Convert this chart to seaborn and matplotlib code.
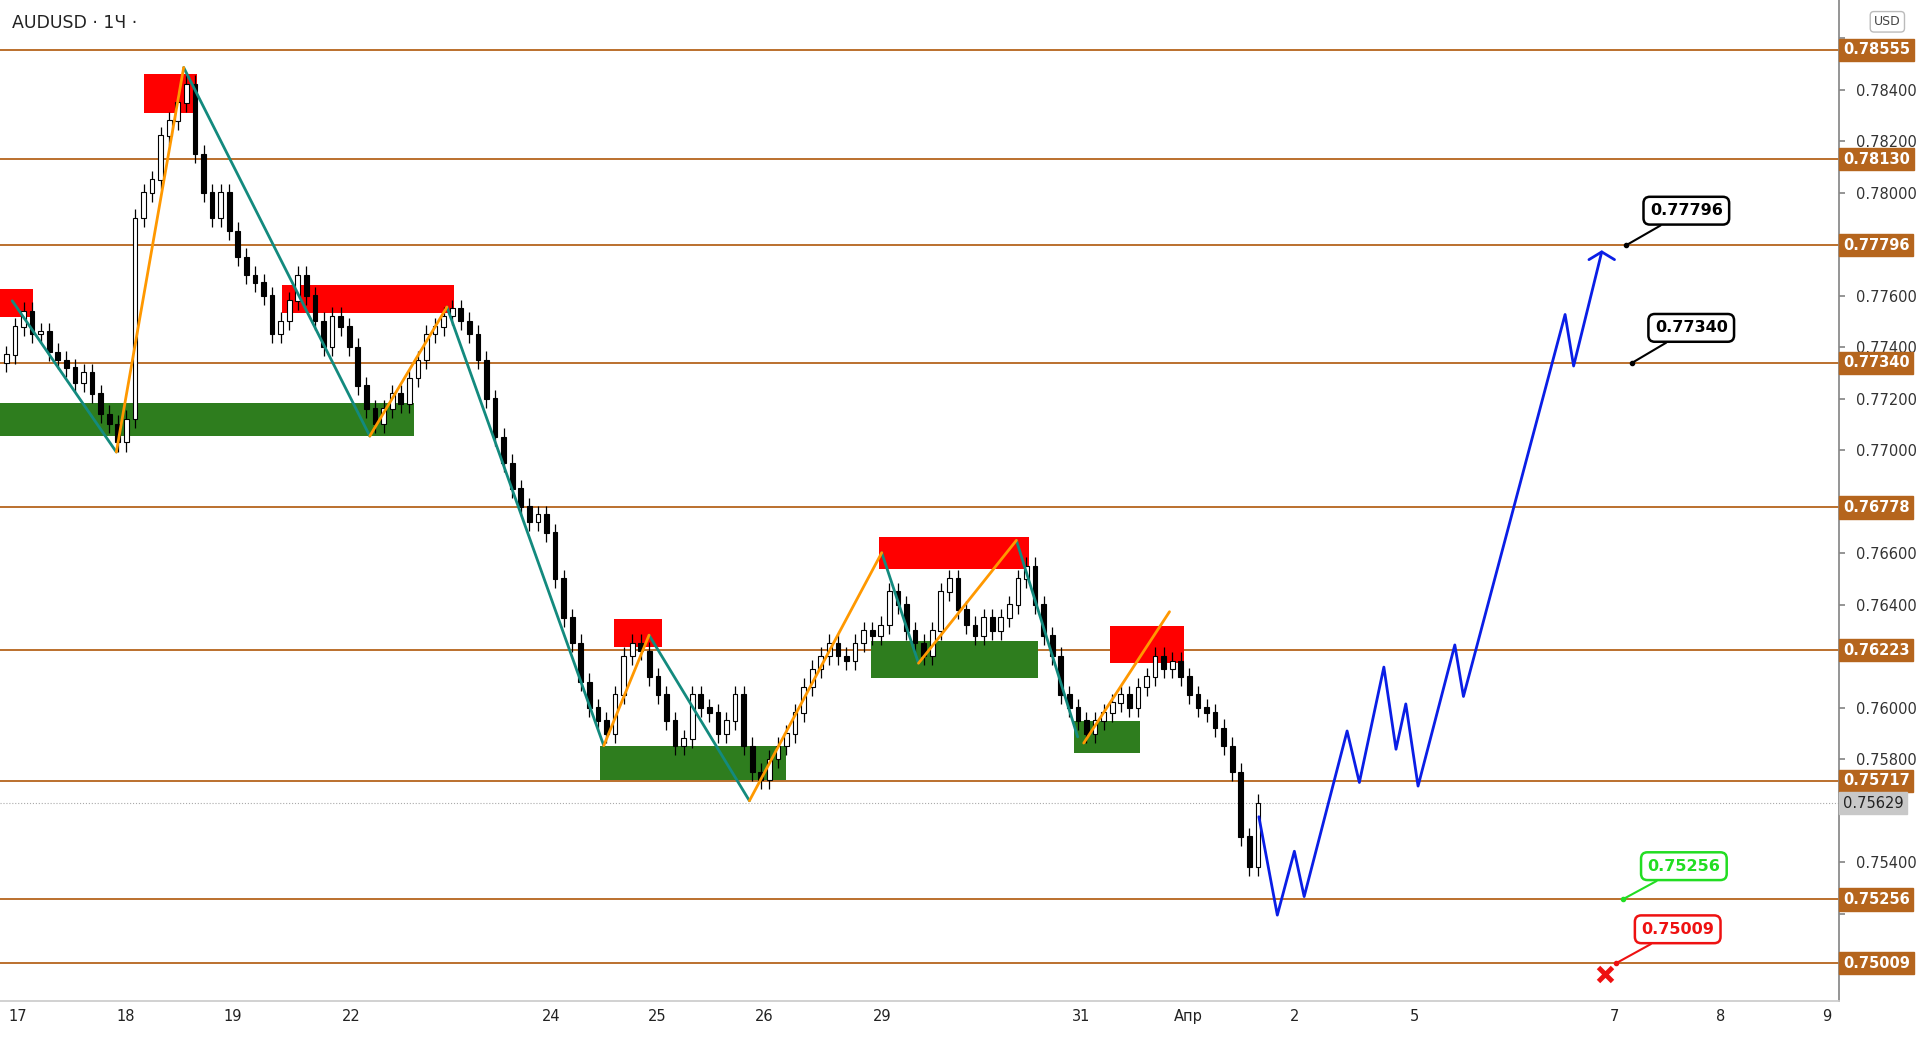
import numpy as np
import pandas as pd
import matplotlib
matplotlib.use("Agg")
import matplotlib.pyplot as plt
import seaborn as sns
from matplotlib.transforms import blended_transform_factory

# ---------------- data ----------------
closes_pips = [7737,7748,7754,7745,7746,7738,7735,7732,7726,7730,7722,7714,7710,7703,
 7712,7790,7800,7805,7822,7828,7835,7842,7815,7800,7790,7800,7785,7775,7768,7765,7760,7745,
 7750,7758,7768,7760,7750,7740,7752,7748,7740,7725,7716,7710,7716,7722,7718,7728,7735,7745,
 7748,7752,7755,7750,7745,7735,7720,7705,7695,7685,7678,7672,7675,7668,7650,7635,7625,7610,
 7600,7595,7590,7605,7620,7625,7622,7612,7605,7595,7585,7588,7605,7600,7598,7590,7595,7605,
 7585,7575,7572,7580,7585,7590,7598,7608,7615,7620,7625,7620,7618,7625,7630,7628,7632,7645,
 7640,7630,7625,7620,7630,7645,7650,7638,7632,7628,7635,7630,7635,7640,7650,7655,7640,7628,
 7620,7605,7600,7595,7590,7595,7598,7602,7605,7600,7608,7612,7620,7615,7618,7612,7605,7600,
 7598,7592,7585,7575,7550,7538,7563]
bar_days = 7 / 87  # one 2-hour candle in day units

levels = [0.78555, 0.78130, 0.77796, 0.77340, 0.76778, 0.76223, 0.75717, 0.75256, 0.75009]
current_price = 0.75629

xtick_pos = [0.17, 1.18, 2.18, 3.30, 5.17, 6.17, 7.17, 8.28, 10.15, 11.15, 12.15, 13.28, 15.15, 16.15, 17.15]
xtick_lab = ["17", "18", "19", "22", "24", "25", "26", "29", "31", "Апр", "2", "5", "7", "8", "9"]
ytick_vals = [0.752, 0.754, 0.756, 0.758, 0.760, 0.762, 0.764, 0.766, 0.768, 0.770,
              0.772, 0.774, 0.776, 0.778, 0.780, 0.782, 0.784, 0.786]

red_zones = [(1.356, 1.851, 0.78309, 0.78462), (0.0, 0.31, 0.77518, 0.77627),
             (2.644, 4.264, 0.77532, 0.77642), (5.759, 6.218, 0.76235, 0.76344),
             (8.253, 9.655, 0.76540, 0.76664), (10.414, 11.115, 0.76173, 0.76316)]
green_zones = [(0.0, 3.885, 0.77055, 0.77184), (5.632, 7.379, 0.75720, 0.75853),
               (8.172, 9.747, 0.76116, 0.76259), (10.08, 10.70, 0.75825, 0.75949)]

teal_segs = [[(0.115, 0.77580), (1.092, 0.76993)], [(1.724, 0.78486), (3.471, 0.77055)],
             [(4.195, 0.77556), (5.667, 0.75853)], [(6.092, 0.76282), (7.034, 0.75639)],
             [(8.276, 0.76602), (8.621, 0.76173)], [(9.540, 0.76650), (10.115, 0.75887)]]
orange_segs = [[(1.092, 0.76993), (1.724, 0.78486)], [(3.471, 0.77055), (4.195, 0.77556)],
               [(5.667, 0.75853), (6.092, 0.76282)], [(7.034, 0.75639), (8.276, 0.76602)],
               [(8.621, 0.76173), (9.540, 0.76650)], [(10.172, 0.75863), (10.977, 0.76373)]]

blue_x = [11.816, 11.989, 12.149, 12.241, 12.644, 12.759, 12.989, 13.103, 13.195, 13.310,
          13.655, 13.736, 14.690, 14.770, 15.034]
blue_y = [0.75577, 0.75195, 0.75443, 0.75267, 0.75910, 0.75710, 0.76158, 0.75839, 0.76015,
          0.75696, 0.76244, 0.76044, 0.77527, 0.77327, 0.77770]

# ---------------- style ----------------
sns.set_theme(style="white")
plt.rcParams['font.family'] = ['DejaVu Sans']
fig = plt.figure(figsize=(19.2, 10.38), dpi=100)
ax = fig.add_axes([0.0, 0.0355, 0.958, 0.9645])
xmax = 1502 / 87
ax.set_xlim(0, xmax)
ax.set_ylim(0.74861, 0.78748)

lvl_col = "#b5651d"
for lv in levels:
    ax.axhline(lv, color=lvl_col, lw=1.3, zorder=1)
ax.axhline(current_price, color="#aaaaaa", lw=0.8, ls=":", zorder=1)

for x0, x1, y0, y1 in red_zones:
    ax.add_patch(plt.Rectangle((x0, y0), x1 - x0, y1 - y0, color="#ff0000", lw=0, zorder=2))
for x0, x1, y0, y1 in green_zones:
    ax.add_patch(plt.Rectangle((x0, y0), x1 - x0, y1 - y0, color="#2e7d1e", lw=0, zorder=2))

# candles
c = np.array(closes_pips) / 10000
o = np.concatenate([[c[0] - 0.0003], c[:-1]])
xs = np.arange(len(c)) * bar_days + 0.06
hi = np.maximum(o, c) + 0.00035
lo = np.minimum(o, c) - 0.00035
ax.vlines(xs, lo, hi, color="black", lw=0.9, zorder=3)
up = c >= o
bw = bar_days * 0.55
ax.bar(xs[up], (c - o)[up] + 0.00002, bottom=o[up], width=bw, color="white", edgecolor="black", lw=0.8, zorder=4)
ax.bar(xs[~up], (o - c)[~up] + 0.00002, bottom=c[~up], width=bw, color="black", edgecolor="black", lw=0.8, zorder=4)

for s in teal_segs:
    ax.plot([p[0] for p in s], [p[1] for p in s], color="#138a7e", lw=2, zorder=5)
for s in orange_segs:
    ax.plot([p[0] for p in s], [p[1] for p in s], color="#ff9800", lw=2, zorder=5)

bdf = pd.DataFrame({"x": blue_x, "y": blue_y})
sns.lineplot(data=bdf, x="x", y="y", ax=ax, color="#0a1ee6", lw=2, sort=False, zorder=6)
hx, hy = blue_x[-1], blue_y[-1]
ax.plot([hx - 0.12, hx, hx + 0.12], [hy - 0.0003, hy, hy - 0.0003], color="#0a1ee6", lw=2, zorder=6)
ax.set_xlabel(""); ax.set_ylabel("")

# callouts
def callout(text, px, py, tx, ty, ec, tc):
    ax.annotate(text, xy=(px, py), xytext=(tx, ty), fontsize=11.5, fontweight="bold", color=tc,
                ha="center", va="center",
                bbox=dict(boxstyle="round,pad=0.4", fc="white", ec=ec, lw=1.8),
                arrowprops=dict(arrowstyle="-", color=ec, lw=1.5, shrinkA=0, shrinkB=0), zorder=8)
    ax.plot(px, py, "o", color=ec, ms=3, zorder=8)

callout("0.77796", 15.264, 0.77796, 15.828, 0.77930, "black", "black")
callout("0.77340", 15.322, 0.77340, 15.874, 0.77475, "black", "black")
callout("0.75256", 15.230, 0.75256, 15.805, 0.75385, "#22dd22", "#22dd22")
callout("0.75009", 15.172, 0.75009, 15.747, 0.75140, "#ee1111", "#ee1111")
ax.plot(15.069, 0.74966, marker="x", color="#ee1111", ms=10, mew=3.5, zorder=9)

# axes decoration
ax.set_xticks(xtick_pos)
ax.set_xticklabels(xtick_lab, fontsize=10.5, color="#222222")
ax.tick_params(axis="x", length=0, pad=6)
ax.yaxis.tick_right()
ax.set_yticks(ytick_vals)
ylabs = ["" if min(abs(v - lv) for lv in levels + [current_price]) < 0.0006 else f"{v:.5f}" for v in ytick_vals]
ax.set_yticklabels(ylabs, fontsize=10.5, color="#333333")
ax.tick_params(axis="y", length=4, pad=8, right=True, color="#888888")
for sp in ["top", "left"]:
    ax.spines[sp].set_visible(False)
ax.spines["right"].set_color("#888888")
ax.spines["bottom"].set_color("#cccccc")

tr = blended_transform_factory(ax.transAxes, ax.transData)
for lv in levels:
    ax.text(1.002, lv, f"{lv:.5f}", transform=tr, fontsize=10.5, fontweight="bold", color="white",
            va="center", ha="left", bbox=dict(boxstyle="square,pad=0.25", fc=lvl_col, ec=lvl_col), zorder=10, clip_on=False)
ax.text(1.002, current_price, f"{current_price:.5f}", transform=tr, fontsize=10.5, color="#222222",
        va="center", ha="left", bbox=dict(boxstyle="square,pad=0.25", fc="#c8c8c8", ec="#c8c8c8"), zorder=10, clip_on=False)

fig.text(0.006, 0.978, "AUDUSD · 1Ч ·", fontsize=12.5, color="#222222", va="center")
fig.text(0.983, 0.979, "USD", fontsize=9, color="#444444", va="center", ha="center",
         bbox=dict(boxstyle="round,pad=0.3", fc="white", ec="#bbbbbb"))

fig.savefig("out.png", dpi=100)
